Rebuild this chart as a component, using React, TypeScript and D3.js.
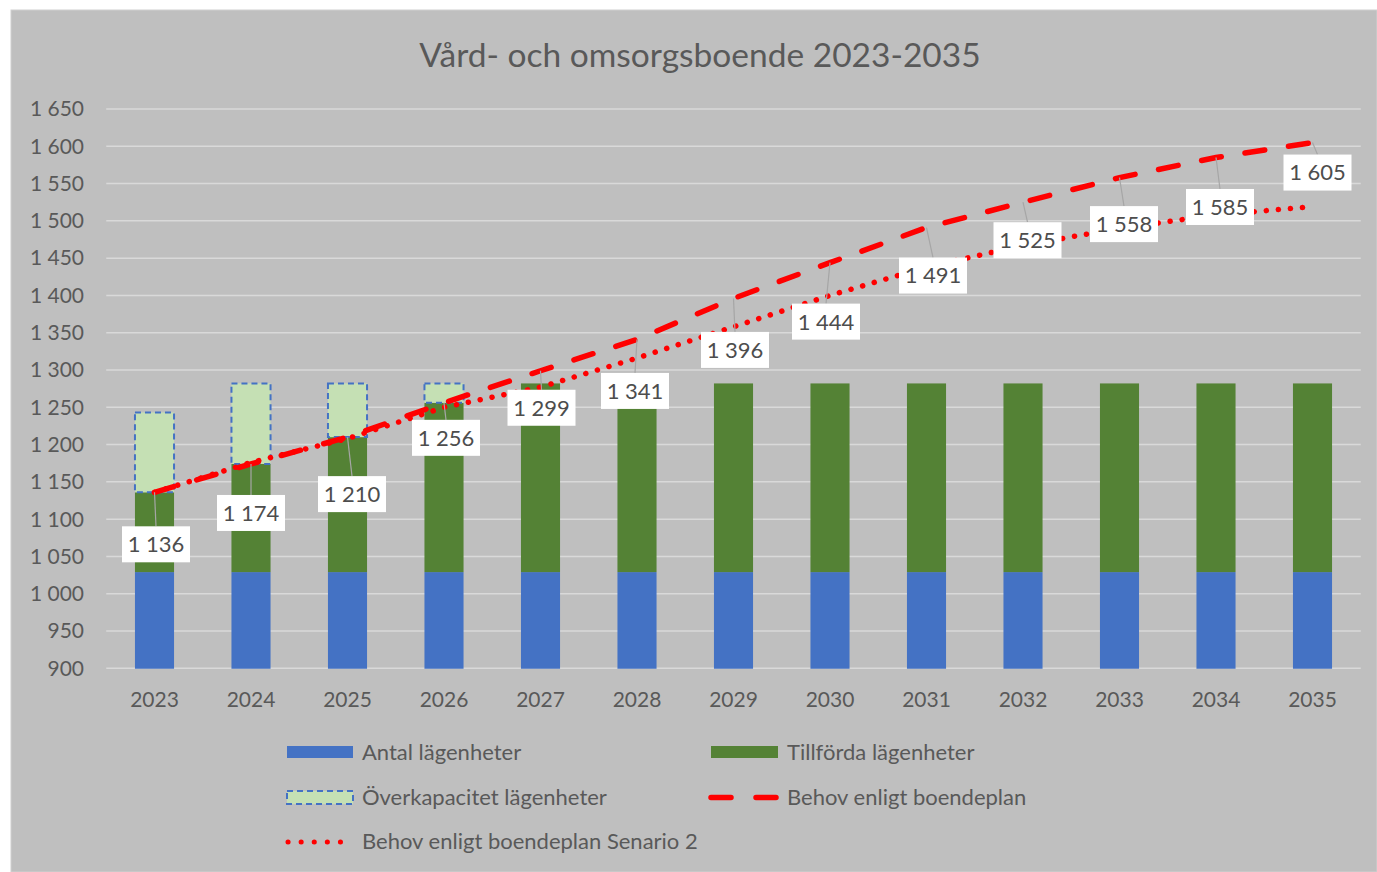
import React from "react";
import * as d3 from "d3";

const years = ["2023","2024","2025","2026","2027","2028","2029","2030","2031","2032","2033","2034","2035"];
const antal = [1029,1029,1029,1029,1029,1029,1029,1029,1029,1029,1029,1029,1029];
const tillforda = [107,145,181,227,253,253,253,253,253,253,253,253,253];
const overkapacitet = [107,108,72,26,0,0,0,0,0,0,0,0,0];
const behov = [1136,1174,1210,1256,1299,1341,1396,1444,1491,1525,1558,1585,1605];
const senario2 = [1136,1176,1208,1250,1277,1316,1358,1400,1438,1467,1490,1508,1519];
const yTicks = [900,950,1000,1050,1100,1150,1200,1250,1300,1350,1400,1450,1500,1550,1600,1650];
// label placement offsets (px) relative to each point of "Behov enligt boendeplan"
const labelDx = [1.5,0,4.5,2,1,-2,1.5,-4,6.5,4.5,4.5,4,5];
const labelDy = [52,49,57,35,37,51.5,51.5,59,48,38,46.5,49.5,30];

const W = 1377, H = 872;
const FONT = "Lato, 'Open Sans', sans-serif";
const TXT = "#595959";

const se = d3.formatLocale({ decimal: ",", thousands: " ", grouping: [3], currency: ["", " kr"] });
const fmt = se.format(",d");

export default function App() {
  const x = d3.scaleBand<string>().domain(years).range([106.25, 1360.75]).padding(0);
  const y = d3.scaleLinear().domain([900, 1650]).range([668.3, 109]);
  const bw = x.bandwidth() * 0.405;
  const cx = (d: string) => (x(d) as number) + x.bandwidth() / 2;

  const rows = years.map((yr, i) => ({ yr, antal: antal[i], tillforda: tillforda[i], over: overkapacitet[i] }));
  const stack = d3.stack<any>().keys(["antal", "tillforda", "over"])(rows);
  const fills: Record<string, string> = { antal: "#4472c4", tillforda: "#548235", over: "#c5e0b4" };

  const line = d3.line<number>().x((_, i) => cx(years[i])).y((v) => y(v));

  const clipId = "plotclip";

  return (
    <svg width={W} height={H} style={{ position: "absolute", left: 0, top: 0 }} fontFamily={FONT}>
      <rect x={0} y={0} width={W} height={H} fill="#ffffff" />
      <rect x={11} y={10} width={W - 11} height={H - 10} fill="#bfbfbf" stroke="#d0d0d0" strokeWidth={1} />
      <defs>
        <clipPath id={clipId}>
          <rect x={100} y={100} width={1270} height={568.3 - 100 + 100.5} />
        </clipPath>
      </defs>
      <text x={700} y={67} textAnchor="middle" fontSize={33.5} fill={TXT}>Vård- och omsorgsboende 2023-2035</text>

      {yTicks.map((t) => (
        <g key={t}>
          <line x1={106.25} x2={1360.75} y1={y(t)} y2={y(t)} stroke="#d9d9d9" strokeWidth={1.5} />
          <text x={84} y={y(t)} dy="0.35em" textAnchor="end" fontSize={21} fill={TXT}>{fmt(t)}</text>
        </g>
      ))}
      {years.map((yr) => (
        <text key={yr} x={cx(yr)} y={707} textAnchor="middle" fontSize={21} fill={TXT}>{yr}</text>
      ))}

      <g clipPath={`url(#${clipId})`}>
        {stack.map((s) =>
          s.map((d, i) => {
            const h = y(d[0]) - y(d[1]);
            if (h <= 0) return null;
            const isOver = s.key === "over";
            return (
              <rect
                key={s.key + i}
                x={cx(years[i]) - bw / 2}
                y={y(d[1])}
                width={bw}
                height={h}
                fill={fills[s.key]}
                stroke={isOver ? "#4472c4" : "none"}
                strokeWidth={isOver ? 2 : 0}
                strokeDasharray={isOver ? "6 4" : undefined}
              />
            );
          })
        )}
      </g>

      <path d={line(senario2) || ""} fill="none" stroke="#ff0000" strokeWidth={5.5} strokeLinecap="round" strokeDasharray="0.1 12" />
      <path d={line(behov) || ""} fill="none" stroke="#ff0000" strokeWidth={5.5} strokeLinecap="round" strokeDasharray="20 24" />

      {behov.map((v, i) => {
        const px = cx(years[i]);
        const py = y(v);
        const lx = px + labelDx[i];
        const ly = py + labelDy[i];
        const bwid = 68, bh = 36;
        return (
          <g key={"lab" + i}>
            <line x1={px} y1={py} x2={lx} y2={ly - bh / 2} stroke="#a6a6a6" strokeWidth={1.2} />
            <rect x={lx - bwid / 2} y={ly - bh / 2} width={bwid} height={bh} fill="#ffffff" />
            <text x={lx} y={ly} dy="0.36em" textAnchor="middle" fontSize={22} fill="#4d4d4d">{fmt(v)}</text>
          </g>
        );
      })}

      {/* Legend */}
      <g>
        <rect x={287} y={746} width={66} height={12} fill="#4472c4" />
        <text x={362} y={752} dy="0.36em" fontSize={22} fill={TXT}>Antal lägenheter</text>
        <rect x={711} y={746} width={67} height={12} fill="#548235" />
        <text x={787} y={752} dy="0.36em" fontSize={22} fill={TXT}>Tillförda lägenheter</text>

        <rect x={287} y={791} width={66} height={13} fill="#c5e0b4" stroke="#4472c4" strokeWidth={2} strokeDasharray="6 4" />
        <text x={362} y={797} dy="0.36em" fontSize={22} fill={TXT}>Överkapacitet lägenheter</text>
        <line x1={711} x2={776} y1={797.5} y2={797.5} stroke="#ff0000" strokeWidth={5.5} strokeLinecap="round" strokeDasharray="20 25" />
        <text x={787} y={797} dy="0.36em" fontSize={22} fill={TXT}>Behov enligt boendeplan</text>

        <line x1={288} x2={353} y1={842} y2={842} stroke="#ff0000" strokeWidth={5} strokeLinecap="round" strokeDasharray="0.1 13" />
        <text x={362} y={841} dy="0.36em" fontSize={22} fill={TXT}>Behov enligt boendeplan Senario 2</text>
      </g>
    </svg>
  );
}
